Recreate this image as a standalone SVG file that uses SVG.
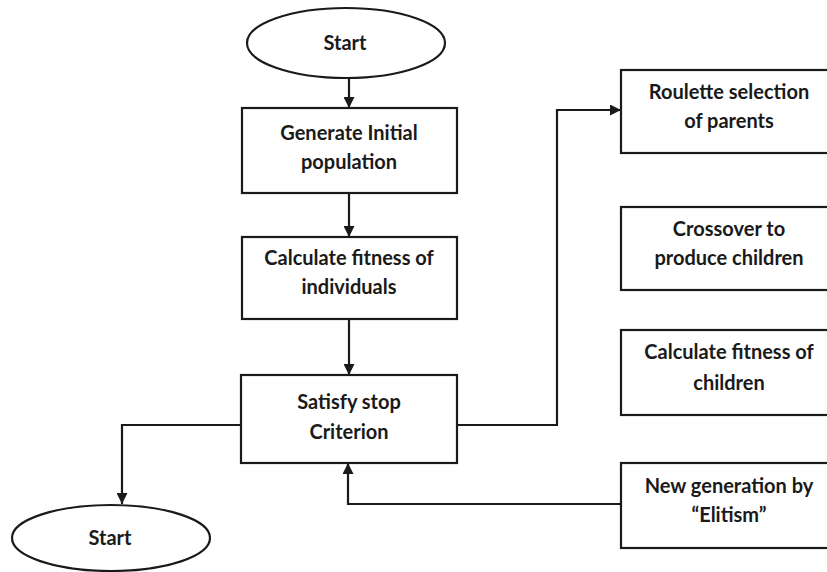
<svg xmlns="http://www.w3.org/2000/svg" width="827" height="572" viewBox="0 0 827 572">
  <style>
    .shape { fill: #ffffff; stroke: #1a1a1a; stroke-width: 2.2; }
    .wire { fill: none; stroke: #1a1a1a; stroke-width: 2.2; }
    .label { font-family: Lato, "Open Sans", sans-serif; font-weight: bold; font-size: 20px; fill: #1a1a1a; text-anchor: middle; }
  </style>
  <defs>
    <marker id="head" viewBox="0 0 10 10" refX="10" refY="5" markerWidth="11" markerHeight="11" markerUnits="userSpaceOnUse" orient="auto">
      <path d="M0,0 L10,5 L0,10 Z" fill="#1a1a1a"/>
    </marker>
  </defs>

  <rect width="827" height="572" fill="#ffffff"/>

  <g id="connectors">
    <path class="wire" d="M349,78 V108" marker-end="url(#head)"/>
    <path class="wire" d="M349,193 V237" marker-end="url(#head)"/>
    <path class="wire" d="M349,319 V375" marker-end="url(#head)"/>
    <path class="wire" d="M241,425 H122 V504" marker-end="url(#head)"/>
    <path class="wire" d="M457,425 H557 V110 H621" marker-end="url(#head)"/>
    <path class="wire" d="M621,504 H348 V463" marker-end="url(#head)"/>
  </g>

  <g id="start-top">
    <ellipse class="shape" cx="346" cy="43" rx="99" ry="35"/>
    <text class="label" x="345" y="50">Start</text>
  </g>

  <g id="generate-population">
    <rect class="shape" x="242" y="108" width="215" height="85"/>
    <text class="label" x="349" y="140">Generate Initial</text>
    <text class="label" x="349" y="169">population</text>
  </g>

  <g id="fitness-individuals">
    <rect class="shape" x="242" y="237" width="215" height="82"/>
    <text class="label" x="349" y="265">Calculate fitness of</text>
    <text class="label" x="349" y="294">individuals</text>
  </g>

  <g id="stop-criterion">
    <rect class="shape" x="241" y="375" width="216" height="88"/>
    <text class="label" x="349" y="409">Satisfy stop</text>
    <text class="label" x="349" y="439">Criterion</text>
  </g>

  <g id="start-bottom">
    <ellipse class="shape" cx="111" cy="538" rx="99" ry="33"/>
    <text class="label" x="110" y="545">Start</text>
  </g>

  <g id="roulette-selection">
    <rect class="shape" x="621" y="70" width="220" height="83"/>
    <text class="label" x="729" y="99">Roulette selection</text>
    <text class="label" x="729" y="128">of parents</text>
  </g>

  <g id="crossover">
    <rect class="shape" x="621" y="207" width="220" height="83"/>
    <text class="label" x="729" y="236">Crossover to</text>
    <text class="label" x="729" y="265">produce children</text>
  </g>

  <g id="fitness-children">
    <rect class="shape" x="621" y="330" width="220" height="85"/>
    <text class="label" x="729" y="359">Calculate fitness of</text>
    <text class="label" x="729" y="390">children</text>
  </g>

  <g id="elitism">
    <rect class="shape" x="621" y="463" width="220" height="85"/>
    <text class="label" x="729" y="493">New generation by</text>
    <text class="label" x="729" y="522">“Elitism”</text>
  </g>
</svg>
